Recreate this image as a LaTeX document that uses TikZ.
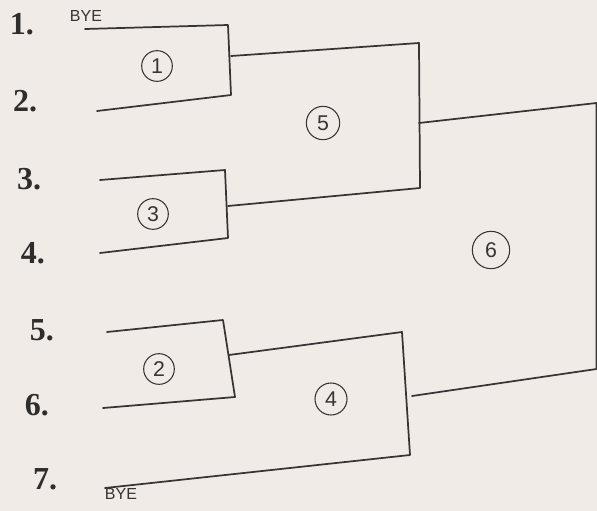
\documentclass[tikz,border=0pt]{standalone}
\usepackage{fontspec}
\setmainfont{Liberation Serif}
\newfontfamily\handfont{Liberation Sans}
\definecolor{paper}{RGB}{241,235,232}
\definecolor{ink}{RGB}{55,52,52}
\begin{document}
\begin{tikzpicture}[
        x=0.75pt, y=-0.75pt,
        % Styles
        seed/.style={font=\fontsize{24}{28}\selectfont\bfseries, text=ink!85!black, inner sep=0pt},
        game/.style={circle, draw=ink, line width=0.8pt, minimum size=23pt, inner sep=0pt, font=\handfont\fontsize{16}{16}\selectfont, text=ink},
        bye/.style={font=\handfont\fontsize{12}{12}\selectfont, text=ink, inner sep=0pt},
        bracket/.style={draw=ink, line width=1.3pt, line cap=round, line join=round}
    ]
        % Paper
        \fill[paper] (0,0) rectangle (597,511);
        \useasboundingbox (0,0) rectangle (597,511);

        % Seeds
        \node (s1) [seed] at (22,24) {1.};
        \node (s2) [seed] at (25,101) {2.};
        \node (s3) [seed] at (29,179) {3.};
        \node (s4) [seed] at (33,253) {4.};
        \node (s5) [seed] at (42,330) {5.};
        \node (s6) [seed] at (37,405) {6.};
        \node (s7) [seed] at (45,479) {7.};
        \node (bye1) [bye] at (86,16) {BYE};
        \node (bye7) [bye] at (121,494) {BYE};

        % Bracket corners
        \coordinate (a1) at (85,29);   \coordinate (a1r) at (228,25);
        \coordinate (a2) at (97,111);  \coordinate (a2r) at (231,95);
        \coordinate (a3) at (100,180); \coordinate (a3r) at (225,170);
        \coordinate (a4) at (100,253); \coordinate (a4r) at (228,238);
        \coordinate (a5) at (107,332); \coordinate (a5r) at (223,320);
        \coordinate (a6) at (103,408); \coordinate (a6r) at (235,397);
        \coordinate (a7) at (105,488);
        \coordinate (w1) at (231,56);  \coordinate (w3) at (228,206);
        \coordinate (w2) at (229,355);
        \coordinate (f5t) at (419,43); \coordinate (f5b) at (420,188);
        \coordinate (f4t) at (402,332); \coordinate (f4b) at (410,455);
        \coordinate (w5) at (419,123); \coordinate (w4) at (412,396);
        \coordinate (g6t) at (596.5,103); \coordinate (g6b) at (596.5,369);

        % Games
        \node (g1) [game] at (157,66) {1};
        \node (g3) [game] at (153,214) {3};
        \node (g5) [game, minimum size=25pt] at (323,123) {5};
        \node (g2) [game] at (159,369) {2};
        \node (g4) [game, minimum size=24pt] at (331,399) {4};
        \node (g6) [game, minimum size=28pt] at (491,250) {6};

        % Lines
        \draw[bracket] (a1) -- (a1r) -- (a2r) -- (a2);
        \draw[bracket] (a3) -- (a3r) -- (a4r) -- (a4);
        \draw[bracket] (a5) -- (a5r) -- (a6r) -- (a6);
        \draw[bracket] (w1) -- (f5t) -- (f5b) -- (w3);
        \draw[bracket] (w2) -- (f4t) -- (f4b) -- (a7);
        \draw[bracket] (w5) -- (g6t) -- (g6b) -- (w4);

    \end{tikzpicture}
\end{document}
